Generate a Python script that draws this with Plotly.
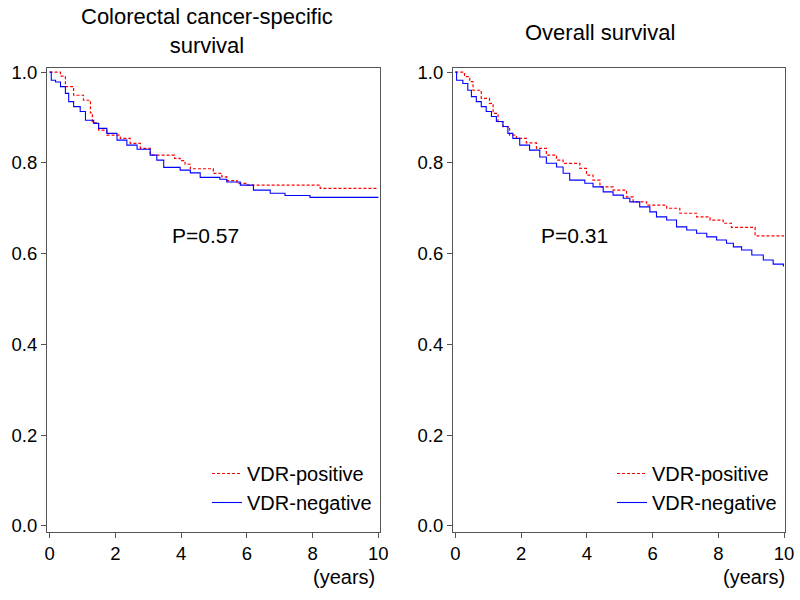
import plotly.graph_objects as go

# Colorectal cancer-specific survival (left)
css_pos_t = [0, 0.33, 0.48, 0.73, 1.03, 1.24, 1.30, 1.49, 1.74, 2.15, 2.45, 2.76, 3.06, 3.80, 3.97, 4.12, 4.28, 4.98, 5.24, 5.39, 5.70, 6.00, 8.23, 10.0]
css_pos_s = [1.0, 0.991, 0.968, 0.949, 0.938, 0.910, 0.888, 0.872, 0.861, 0.854, 0.843, 0.832, 0.817, 0.810, 0.805, 0.797, 0.787, 0.777, 0.769, 0.761, 0.755, 0.751, 0.744, 0.744]
css_neg_t = [0, 0.05, 0.18, 0.33, 0.48, 0.58, 0.73, 0.93, 1.09, 1.34, 1.49, 1.74, 2.05, 2.35, 2.66, 3.06, 3.26, 3.47, 3.97, 4.28, 4.58, 5.18, 5.39, 5.80, 6.20, 6.71, 7.16, 7.92, 10.0]
css_neg_s = [1.0, 0.982, 0.978, 0.968, 0.953, 0.935, 0.924, 0.913, 0.894, 0.887, 0.876, 0.865, 0.850, 0.839, 0.830, 0.817, 0.806, 0.790, 0.784, 0.778, 0.768, 0.764, 0.758, 0.751, 0.740, 0.733, 0.728, 0.724, 0.724]

# Overall survival (right)
os_pos_t = [0, 0.28, 0.44, 0.54, 0.79, 1.04, 1.15, 1.30, 1.45, 1.65, 1.86, 2.16, 2.47, 2.77, 3.08, 3.28, 3.79, 3.99, 4.19, 4.40, 4.80, 5.21, 5.41, 5.82, 6.43, 6.83, 7.34, 7.75, 8.15, 8.40, 9.12, 10.0]
os_pos_s = [1.0, 0.990, 0.979, 0.960, 0.942, 0.931, 0.909, 0.891, 0.880, 0.861, 0.854, 0.844, 0.832, 0.817, 0.806, 0.799, 0.788, 0.773, 0.762, 0.747, 0.740, 0.725, 0.714, 0.707, 0.700, 0.689, 0.681, 0.674, 0.667, 0.658, 0.639, 0.639]
os_neg_t = [0, 0.04, 0.23, 0.38, 0.49, 0.64, 0.79, 0.94, 1.10, 1.25, 1.45, 1.60, 1.75, 1.96, 2.26, 2.57, 2.77, 3.08, 3.28, 3.48, 3.94, 4.19, 4.50, 4.80, 5.11, 5.31, 5.61, 5.92, 6.12, 6.43, 6.73, 7.04, 7.34, 7.65, 7.95, 8.25, 8.46, 8.71, 9.02, 9.37, 9.67, 9.98, 10.0]
os_neg_s = [1.0, 0.982, 0.975, 0.960, 0.946, 0.935, 0.924, 0.913, 0.902, 0.891, 0.880, 0.865, 0.854, 0.839, 0.828, 0.813, 0.799, 0.791, 0.777, 0.762, 0.755, 0.747, 0.736, 0.729, 0.722, 0.714, 0.703, 0.692, 0.681, 0.674, 0.659, 0.652, 0.645, 0.637, 0.630, 0.623, 0.615, 0.608, 0.597, 0.586, 0.577, 0.573, 0.573]

titles = ["Colorectal cancer-specific<br>survival", "Overall survival"]
p_values = ["P=0.57", "P=0.31"]
series_names = ["VDR-positive", "VDR-negative"]
x_ticks = [0, 2, 4, 6, 8, 10]
y_ticks = [0.0, 0.2, 0.4, 0.6, 0.8, 1.0]

RED = "#ff0000"
BLUE = "#0000ff"
FONT = "Liberation Sans, Arial, sans-serif"

fig = go.Figure()

panels = [
    ("x", "y", "legend", css_pos_t, css_pos_s, css_neg_t, css_neg_s),
    ("x2", "y2", "legend2", os_pos_t, os_pos_s, os_neg_t, os_neg_s),
]
for xa, ya, lg, pt, ps, nt, ns in panels:
    fig.add_trace(go.Scatter(x=pt, y=ps, mode="lines", line_shape="hv",
                             line=dict(color=RED, width=1.2, dash="3px,2px"),
                             name=series_names[0], xaxis=xa, yaxis=ya, legend=lg))
    fig.add_trace(go.Scatter(x=nt, y=ns, mode="lines", line_shape="hv",
                             line=dict(color=BLUE, width=1.1),
                             name=series_names[1], xaxis=xa, yaxis=ya, legend=lg))

axis_common = dict(showgrid=False, zeroline=False, showline=True, mirror=True, automargin=False,
                   linecolor="#555555", linewidth=1, ticks="outside", ticklen=5,
                   tickcolor="#555555", tickfont=dict(size=18.5, color="black", family=FONT))

fig.update_layout(
    width=800, height=600,
    margin=dict(l=0, r=0, t=0, b=0, autoexpand=False),
    paper_bgcolor="white", plot_bgcolor="white",
    font=dict(family=FONT, color="black"),
    hovermode=False,
    xaxis=dict(domain=[47/800, 380/800], range=[-0.08, 10.05], tickvals=x_ticks, anchor="y", **axis_common),
    yaxis=dict(domain=[1-531.7/600, 1-68/600], range=[-0.0126, 1.009], tickvals=y_ticks, tickformat=".1f", anchor="x", **axis_common),
    xaxis2=dict(domain=[453/800, 785/800], range=[-0.07, 10.03], tickvals=x_ticks, anchor="y2", **axis_common),
    yaxis2=dict(domain=[1-531.7/600, 1-68/600], range=[-0.0126, 1.009], tickvals=y_ticks, tickformat=".1f", anchor="x2", **axis_common),
    legend=dict(x=207/800, y=1-454/600, xanchor="left", yanchor="top", bgcolor="rgba(0,0,0,0)",
                font=dict(size=20, family=FONT), tracegroupgap=0, itemwidth=30),
    legend2=dict(x=612/800, y=1-454/600, xanchor="left", yanchor="top", bgcolor="rgba(0,0,0,0)",
                 font=dict(size=20, family=FONT), tracegroupgap=0, itemwidth=30),
)

annotations = [
    dict(text=titles[0], x=207/800, y=1-31/600, xref="paper", yref="paper", showarrow=False,
         font=dict(size=22), xanchor="center", yanchor="middle"),
    dict(text=titles[1], x=600/800, y=1-32/600, xref="paper", yref="paper", showarrow=False,
         font=dict(size=22), xanchor="center", yanchor="middle"),
    dict(text=p_values[0], x=4.73, y=0.641, xref="x", yref="y", showarrow=False,
         font=dict(size=21), xanchor="center", yanchor="middle"),
    dict(text=p_values[1], x=3.63, y=0.641, xref="x2", yref="y2", showarrow=False,
         font=dict(size=21), xanchor="center", yanchor="middle"),
    dict(text="(years)", x=377/800, y=1-577/600, xref="paper", yref="paper", showarrow=False,
         font=dict(size=20), xanchor="right", yanchor="middle"),
    dict(text="(years)", x=787/800, y=1-577/600, xref="paper", yref="paper", showarrow=False,
         font=dict(size=20), xanchor="right", yanchor="middle"),
]
fig.update_layout(annotations=annotations)

fig.write_html("out.html", config={"displayModeBar": False, "staticPlot": True},
               post_script="document.body.style.margin='0';document.body.style.overflow='hidden';")
